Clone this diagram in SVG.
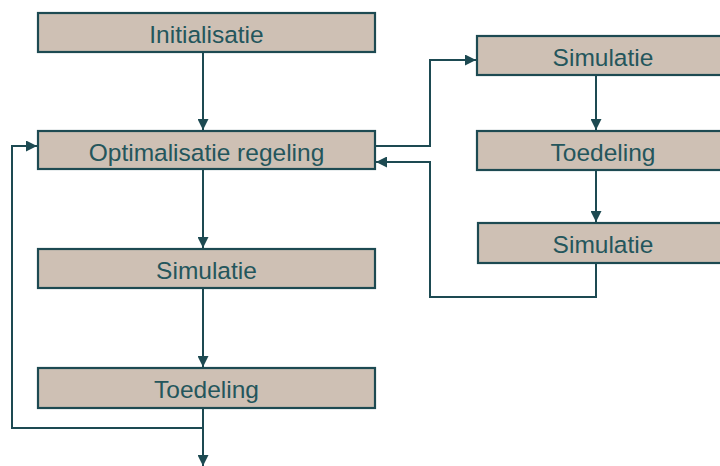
<svg xmlns="http://www.w3.org/2000/svg" width="720" height="466" viewBox="0 0 720 466">
<style>
.box{fill:#cec0b4;stroke:#1d4a52;stroke-width:2.2}
.lbl{font-family:"Liberation Sans",Arial,sans-serif;font-size:24.5px;fill:#24565c;text-anchor:middle}
.con{fill:none;stroke:#1d4a52;stroke-width:2}
</style>
<defs>
<marker id="ah" viewBox="0 0 10 10" refX="10" refY="5" markerWidth="5.5" markerHeight="5.5" orient="auto" markerUnits="strokeWidth">
<path d="M0,0 L10,5 L0,10 Z" fill="#1d4a52"/>
</marker>
</defs>
<rect width="720" height="466" fill="#ffffff"/>
<g id="connectors">
<path class="con" d="M203,52 V130" marker-end="url(#ah)"/>
<path class="con" d="M203,169 V248" marker-end="url(#ah)"/>
<path class="con" d="M203,288 V367" marker-end="url(#ah)"/>
<path class="con" d="M203,408 V466" marker-end="url(#ah)"/>
<path class="con" d="M203,428 H12 V146 H37" marker-end="url(#ah)"/>
<path class="con" d="M375,146 H430 V60 H476" marker-end="url(#ah)"/>
<path class="con" d="M596,75 V130" marker-end="url(#ah)"/>
<path class="con" d="M596,170 V222" marker-end="url(#ah)"/>
<path class="con" d="M596,263 V297 H430 V162 H376" marker-end="url(#ah)"/>
</g>
<g id="n-init"><rect class="box" x="38" y="13" width="337" height="39"/><text class="lbl" x="206.5" y="42.5">Initialisatie</text></g>
<g id="n-opt"><rect class="box" x="38" y="131" width="337" height="38"/><text class="lbl" x="206.5" y="161">Optimalisatie regeling</text></g>
<g id="n-sim1"><rect class="box" x="38" y="249" width="337" height="39"/><text class="lbl" x="206.5" y="278.5">Simulatie</text></g>
<g id="n-toed1"><rect class="box" x="38" y="368" width="337" height="40"/><text class="lbl" x="206.5" y="398">Toedeling</text></g>
<g id="n-sim2"><rect class="box" x="477" y="36" width="260" height="39"/><text class="lbl" x="603" y="65.5">Simulatie</text></g>
<g id="n-toed2"><rect class="box" x="477" y="131" width="260" height="39"/><text class="lbl" x="603" y="161">Toedeling</text></g>
<g id="n-sim3"><rect class="box" x="478" y="223" width="260" height="40"/><text class="lbl" x="603" y="253">Simulatie</text></g>
</svg>
